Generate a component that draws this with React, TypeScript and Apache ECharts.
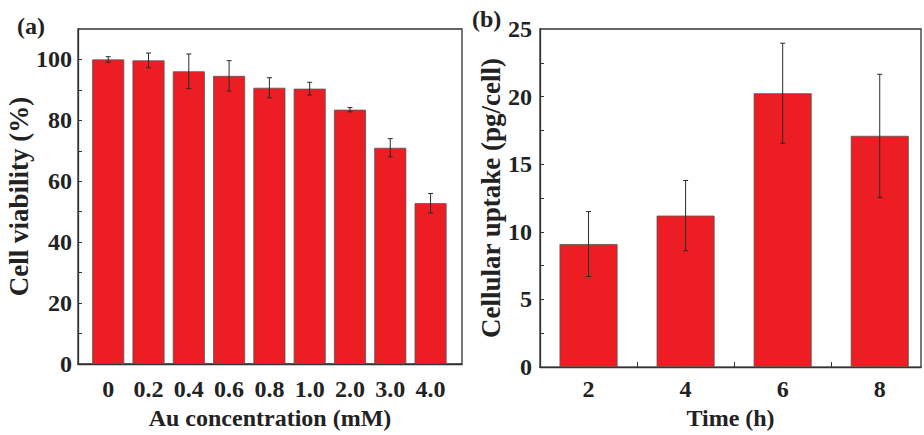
import React, { useEffect, useRef } from "react";
import * as echarts from "echarts";

// Panel (a)
const concLabels = ["0", "0.2", "0.4", "0.6", "0.8", "1.0", "2.0", "3.0", "4.0"];
const viability = [100, 99.7, 96.1, 94.6, 90.7, 90.4, 83.5, 71.0, 52.8];
const viabilityErr = [0.9, 2.4, 5.7, 5.0, 3.3, 2.1, 0.7, 3.0, 3.2];
const viabilityTicks = [0, 20, 40, 60, 80, 100];

// Panel (b)
const times = [2, 4, 6, 8];
const uptake = [9.1, 11.2, 20.25, 17.1];
const uptakeErr = [2.4, 2.6, 3.7, 4.55];
const uptakeTicks = [0, 5, 10, 15, 20, 25];

const FONT = "'Liberation Serif', 'Times New Roman', 'DejaVu Serif', serif";
const TEXT = "#222";
const LINE = "#333";
const RED = "#ED1D24";

function errRender(capHalf: number) {
  return (params: any, api: any) => {
    const x = api.value(0);
    const lo = api.coord([x, api.value(1)]);
    const hi = api.coord([x, api.value(2)]);
    const st = { stroke: "#2a2a2a", lineWidth: 1 };
    return {
      type: "group",
      children: [
        { type: "line", shape: { x1: lo[0], y1: lo[1], x2: hi[0], y2: hi[1] }, style: st },
        { type: "line", shape: { x1: lo[0] - capHalf, y1: lo[1], x2: lo[0] + capHalf, y2: lo[1] }, style: st },
        { type: "line", shape: { x1: hi[0] - capHalf, y1: hi[1], x2: hi[0] + capHalf, y2: hi[1] }, style: st },
      ],
    };
  };
}

export default function App() {
  const ref = useRef<HTMLDivElement>(null);
  useEffect(() => {
    if (!ref.current) return;
    const chart = echarts.init(ref.current, null, { renderer: "svg" });
    const labelStyle = { fontFamily: FONT, fontWeight: "bold" as const, fontSize: 24, color: TEXT };
    const nameStyle = { fontFamily: FONT, fontWeight: "bold" as const, fontSize: 24, color: TEXT };
    const vNameStyle = { fontFamily: FONT, fontWeight: "bold" as const, fontSize: 27, color: TEXT };
    const axisLine = { show: true, onZero: false, lineStyle: { color: LINE, width: 1.3 } };
    chart.setOption({
      animation: false,
      backgroundColor: "#fff",
      grid: [
        { left: 78, top: 29, width: 384, height: 338, show: true, borderColor: LINE, borderWidth: 1.3, containLabel: false },
        { left: 540, top: 29, width: 381, height: 343, show: true, borderColor: LINE, borderWidth: 1.3, containLabel: false },
      ],
      xAxis: [
        {
          type: "value",
          gridIndex: 0,
          min: -0.75,
          max: 8.78,
          axisLine,
          splitLine: { show: false },
          axisTick: { show: true, inside: true, length: 5, customValues: concLabels.map((_, i) => i), lineStyle: { color: LINE } },
          axisLabel: {
            ...labelStyle,
            margin: 13,
            customValues: concLabels.map((_, i) => i),
            formatter: (v: number) => concLabels[Math.round(v)] ?? "",
          },
          name: "Au concentration (mM)",
          nameLocation: "middle",
          nameGap: 42,
          nameTextStyle: nameStyle,
        },
        {
          type: "value",
          gridIndex: 1,
          min: 1,
          max: 8.85,
          axisLine,
          splitLine: { show: false },
          axisTick: { show: true, inside: true, length: 5, customValues: [2, 3, 4, 5, 6, 7, 8], lineStyle: { color: LINE } },
          axisLabel: { ...labelStyle, margin: 10, customValues: times, formatter: (v: number) => String(v) },
          name: "Time (h)",
          nameLocation: "middle",
          nameGap: 36,
          nameTextStyle: nameStyle,
        },
      ],
      yAxis: [
        {
          type: "value",
          gridIndex: 0,
          min: 0,
          max: 110,
          axisLine,
          splitLine: { show: false },
          axisTick: { show: true, inside: true, length: 4, customValues: [0, 10, 20, 30, 40, 50, 60, 70, 80, 90, 100], lineStyle: { color: LINE } },
          axisLabel: { ...labelStyle, margin: 6, customValues: viabilityTicks },
          name: "Cell viability (%)",
          nameLocation: "middle",
          nameGap: 36,
          nameTextStyle: vNameStyle,
        },
        {
          type: "value",
          gridIndex: 1,
          min: 0,
          max: 25,
          axisLine,
          splitLine: { show: false },
          axisTick: { show: true, inside: true, length: 4, customValues: [0, 2.5, 5, 7.5, 10, 12.5, 15, 17.5, 20, 22.5], lineStyle: { color: LINE } },
          axisLabel: { ...labelStyle, margin: 8, customValues: uptakeTicks },
          name: "Cellular uptake (pg/cell)",
          nameLocation: "middle",
          nameGap: 33,
          nameTextStyle: vNameStyle,
        },
      ],
      series: [
        {
          type: "bar",
          xAxisIndex: 0,
          yAxisIndex: 0,
          barWidth: 32,
          data: viability.map((v, i) => [i, v]),
          itemStyle: { color: RED, borderColor: "#555", borderWidth: 0.8 },
        },
        {
          type: "custom",
          xAxisIndex: 0,
          yAxisIndex: 0,
          data: viability.map((v, i) => [i, v - viabilityErr[i], v + viabilityErr[i]]),
          renderItem: errRender(2.5),
          z: 5,
        },
        {
          type: "bar",
          xAxisIndex: 1,
          yAxisIndex: 1,
          barWidth: 58,
          data: uptake.map((v, i) => [times[i], v]),
          itemStyle: { color: RED, borderColor: "#555", borderWidth: 0.8 },
        },
        {
          type: "custom",
          xAxisIndex: 1,
          yAxisIndex: 1,
          data: uptake.map((v, i) => [times[i], v - uptakeErr[i], v + uptakeErr[i]]),
          renderItem: errRender(2.5),
          z: 5,
        },
      ],
      graphic: [
        { type: "text", left: 17, top: 14, style: { text: "(a)", fontFamily: FONT, fontWeight: "bold", fontSize: 24, fill: TEXT } },
        { type: "text", left: 472, top: 7, style: { text: "(b)", fontFamily: FONT, fontWeight: "bold", fontSize: 24, fill: TEXT } },
      ],
    });
    return () => chart.dispose();
  }, []);
  return <div ref={ref} style={{ width: 924, height: 435, position: "absolute", left: 0, top: 0 }} />;
}
